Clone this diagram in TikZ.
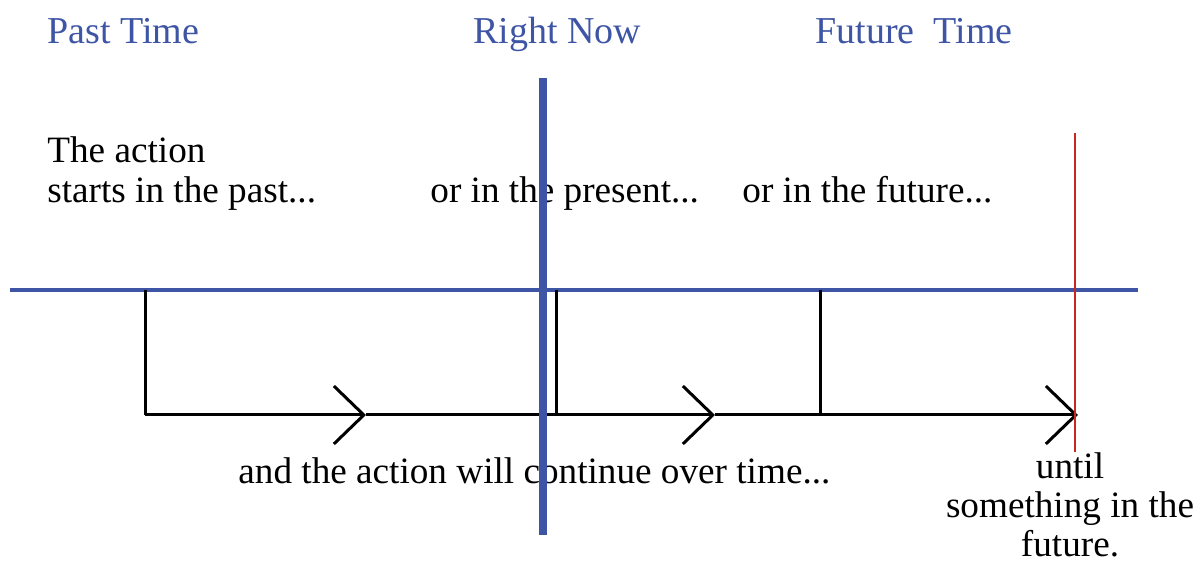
\documentclass[tikz,border=0pt]{standalone}
\usepackage{fontspec}
\setmainfont{Liberation Serif}
\usetikzlibrary{arrows.meta, positioning}
\definecolor{nowblue}{RGB}{62,85,165}
\definecolor{endred}{RGB}{200,40,30}

\begin{document}
\begin{tikzpicture}[
  x=0.5pt, y=-0.5pt,
  heading/.style={anchor=base west, inner sep=0pt, text=nowblue, font=\fontsize{19}{21}\selectfont},
  note/.style={anchor=base west, inner sep=0pt, font=\fontsize{18.6}{20}\selectfont},
  timeline/.style={draw=nowblue, line width=2pt},
  riser/.style={line width=1.5pt},
  flow/.style={line width=1.5pt, -{Straight Barb[length=15pt, width=29pt, line width=1.5pt]}},
]
\useasboundingbox (0,0) rectangle (1200,565);

% points on the time line
\coordinate (tl) at (10,290);
\coordinate (tr) at (1138,290);
\coordinate (nowtop) at (543,78);
\coordinate (nowbot) at (543,535);
\coordinate (endtop) at (1075,133);
\coordinate (endbot) at (1075,452);
\coordinate (s1) at (145,290);
\coordinate (s2) at (556,290);
\coordinate (s3) at (820,290);
\coordinate (b1) at (145,415);
\coordinate (b2) at (556,415);
\coordinate (b3) at (820,415);
\coordinate (c1) at (366,415);
\coordinate (c2) at (715,415);
\coordinate (c3) at (1078,415);

% headings
\node[heading] (past) at (47,44) {Past Time};
\node[heading] (now) at (473,44) {Right Now};
\node[heading] (future) at (815,44) {Future\ \ Time};

% notes (base is the last line)
\node[note, align=left] (start) at (47,203) {The action\\starts in the past...};
\node[note] (present) at (430,203) {or in the present...};
\node[note] (later) at (742,203) {or in the future...};
\node[note] (cont) at (238,484) {and the action will continue over time...};
\node[note, anchor=base, align=center, font=\fontsize{18.6}{19.5}\selectfont] (until) at (1070,557) {until\\something in the\\future.};

% lines
\draw[timeline] (tl) -- (tr);
\draw[riser] (s1) -- (b1);
\draw[riser] (s2) -- (b2);
\draw[riser] (s3) -- (b3);
\draw[flow] (b1) -- (c1);
\draw[flow] (c1) -- (c2);
\draw[flow] (c2) -- (c3);
\draw[nowblue, line width=4pt] (nowtop) -- (nowbot);
\draw[endred, line width=1pt] (endtop) -- (endbot);
\end{tikzpicture}
\end{document}
